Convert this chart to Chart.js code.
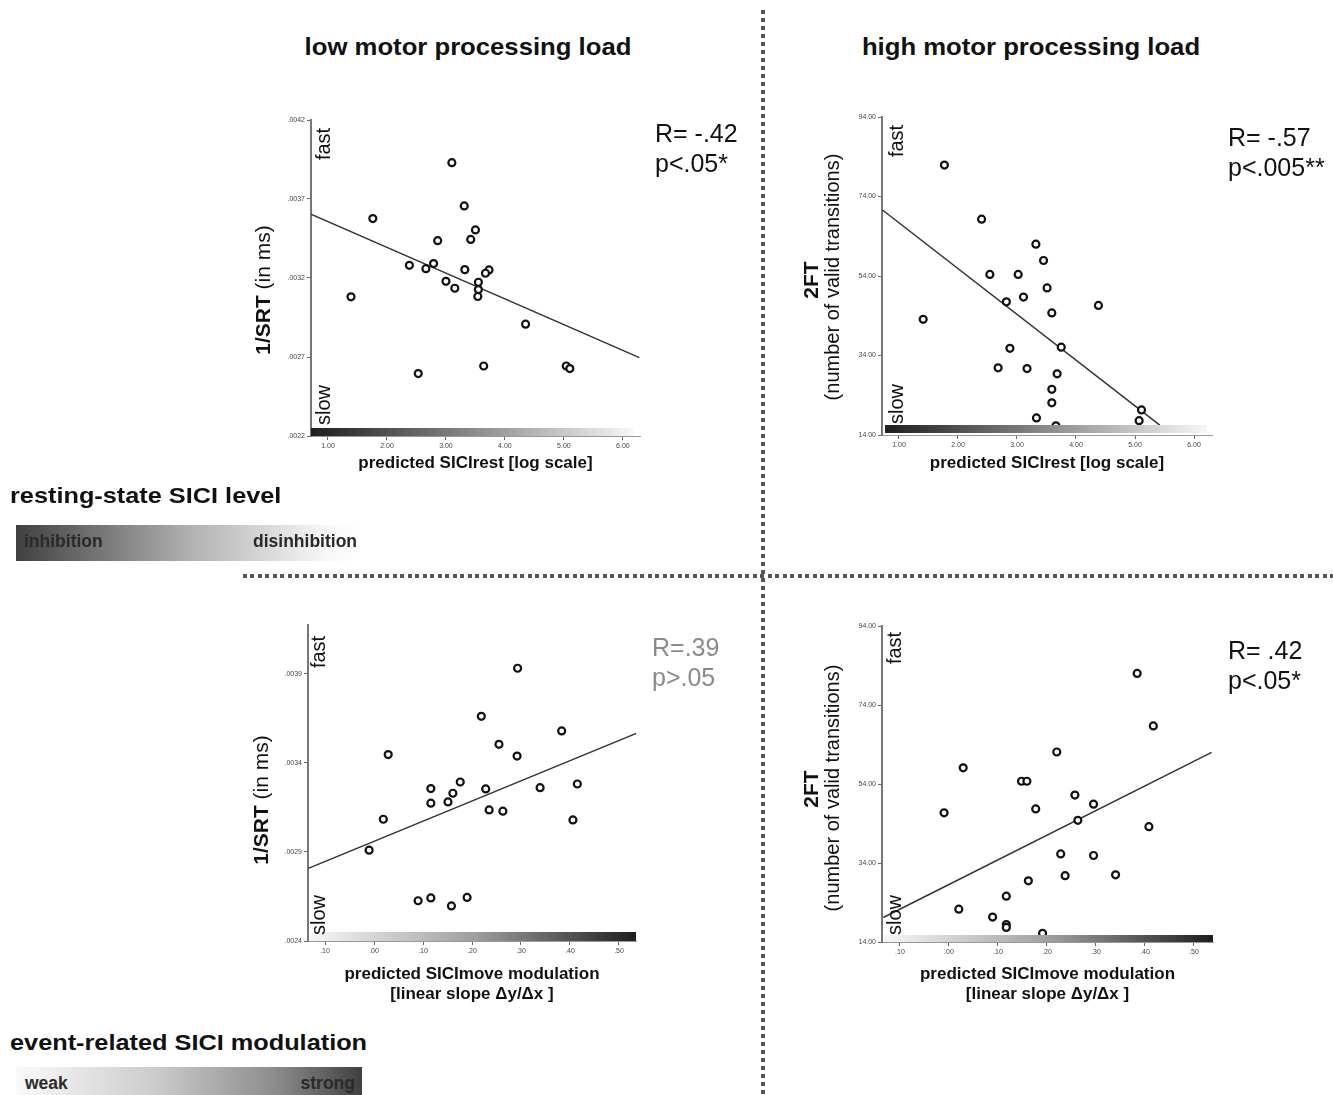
<!DOCTYPE html>
<html>
<head>
<meta charset="utf-8">
<title>SICI and motor performance</title>
<script src="https://cdn.jsdelivr.net/npm/chart.js@4.4.0/dist/chart.umd.min.js"></script>
<style>
  body { margin: 0; width: 1333px; height: 1095px; position: relative; overflow: hidden; background: #fff;
         font-family: "Liberation Sans", Arial, sans-serif; color: #111; }
  canvas { position: absolute; }
  .abs { position: absolute; white-space: nowrap; }
  .title { font-weight: bold; font-size: 24px; top: 33px; transform: translateX(-50%) scaleX(1.07); }
  .stat { font-size: 25px; line-height: 30px; }
  .legend { left: 10px; font-weight: bold; font-size: 22px; line-height: 26px; transform: scaleX(1.15); transform-origin: left center; }
  .bar { left: 16px; width: 346px; }
  .bar span { position: absolute; top: 6px; font-weight: bold; font-size: 17.5px; line-height: 20px; color: #2a2a2a; }
  .vdots { left: 761px; top: 10px; width: 4px; height: 1085px;
           background: repeating-linear-gradient(to bottom, #555 0 4px, transparent 4px 8px); }
  .hdots { left: 243px; top: 574px; width: 1090px; height: 4px;
           background: repeating-linear-gradient(to right, #555 0 4px, transparent 4px 7.5px); }
</style>
</head>
<body>

<canvas id="tl"></canvas>
<canvas id="tr"></canvas>
<canvas id="bl"></canvas>
<canvas id="br"></canvas>

<div class="abs vdots"></div>
<div class="abs hdots"></div>

<div class="abs title" style="left:468px">low motor processing load</div>
<div class="abs title" style="left:1031px">high motor processing load</div>

<div class="abs stat" style="left:655px; top:118px">R= -.42<br>p&lt;.05*</div>
<div class="abs stat" style="left:1228px; top:122px">R= -.57<br>p&lt;.005**</div>
<div class="abs stat" style="left:652px; top:632px; color:#8a8a8a">R=.39<br>p&gt;.05</div>
<div class="abs stat" style="left:1228px; top:635px">R= .42<br>p&lt;.05*</div>

<div class="abs legend" style="top:483px">resting-state SICI level</div>
<div class="abs bar" style="top:525px; height:36px; background:linear-gradient(to right, #404040 0%, #b0b0b0 50%, #f8f8f8 90%, #fff 100%)">
  <span style="left:8px">inhibition</span>
  <span style="left:237px">disinhibition</span>
</div>

<div class="abs legend" style="top:1030px">event-related SICI modulation</div>
<div class="abs bar" style="top:1067px; height:28px; background:linear-gradient(to right, #fafafa 0%, #cccccc 40%, #8c8c8c 75%, #404040 100%)">
  <span style="left:9px">weak</span>
  <span style="right:7px">strong</span>
</div>

<script>
// Tick values and labels (SPSS style, no leading zero)
const restTicks = [1, 2, 3, 4, 5, 6];
const restTickLabels = ["1.00", "2.00", "3.00", "4.00", "5.00", "6.00"];
const moveTicks = [-0.1, 0, 0.1, 0.2, 0.3, 0.4, 0.5];
const moveTickLabels = [".10", ".00", ".10", ".20", ".30", ".40", ".50"];
const srtTopTicks = [0.0022, 0.0027, 0.0032, 0.0037, 0.0042];
const srtTopTickLabels = [".0022", ".0027", ".0032", ".0037", ".0042"];
const srtBottomTicks = [0.0024, 0.0029, 0.0034, 0.0039];
const srtBottomTickLabels = [".0024", ".0029", ".0034", ".0039"];
const ftTicks = [14, 34, 54, 74, 94];
const ftTickLabels = ["14.00", "34.00", "54.00", "74.00", "94.00"];

// Low load, resting-state SICI vs 1/SRT
const restSrtX = [3.10, 3.31, 1.76, 3.50, 3.42, 2.86, 2.38, 2.66, 2.79, 3.32, 3.73, 3.67, 3.00, 3.15, 3.55, 3.55, 3.54, 1.39, 4.35, 3.64, 5.04, 5.10, 2.53];
const restSrtY = [0.00393, 0.003656, 0.003576, 0.003504, 0.003444, 0.003436, 0.00328, 0.003259, 0.003291, 0.003253, 0.003251, 0.00323, 0.003179, 0.003135, 0.003173, 0.003127, 0.003083, 0.003081, 0.002908, 0.002643, 0.002643, 0.002627, 0.002595];
const restSrtFitX = [0.71, 6.28];
const restSrtFitY = [0.003604, 0.002696];

// High load, resting-state SICI vs 2FT
const restFtX = [1.77, 2.40, 3.32, 3.45, 2.54, 3.02, 3.51, 2.82, 3.11, 4.38, 3.59, 1.41, 3.75, 2.88, 2.68, 3.17, 3.68, 3.59, 3.59, 3.33, 5.11, 5.07, 3.66];
const restFtY = [81.9, 68.3, 62.0, 57.9, 54.4, 54.4, 51.0, 47.5, 48.7, 46.6, 44.7, 43.1, 36.1, 35.8, 30.9, 30.7, 29.4, 25.5, 22.1, 18.3, 20.3, 17.6, 16.3];
const restFtFitX = [0.72, 5.42];
const restFtFitY = [70.6, 16.5];

// Low load, SICI modulation vs 1/SRT
const moveSrtX = [0.293, 0.219, 0.383, 0.255, 0.029, 0.292, 0.176, 0.415, 0.116, 0.228, 0.339, 0.161, 0.151, 0.116, 0.235, 0.263, 0.019, 0.406, -0.010, 0.090, 0.116, 0.158, 0.190];
const moveSrtY = [0.003932, 0.003662, 0.00358, 0.003505, 0.003447, 0.003439, 0.003293, 0.003282, 0.003256, 0.003254, 0.003261, 0.00323, 0.003181, 0.003174, 0.003136, 0.003129, 0.003084, 0.00308, 0.00291, 0.002626, 0.002642, 0.002597, 0.002645];
const moveSrtFitX = [-0.134, 0.536];
const moveSrtFitY = [0.002808, 0.003567];

// High load, SICI modulation vs 2FT
const moveFtX = [0.384, 0.417, 0.220, 0.029, 0.148, 0.159, 0.257, 0.295, 0.177, -0.010, 0.263, 0.408, 0.228, 0.295, 0.237, 0.340, 0.162, 0.117, 0.020, 0.089, 0.117, 0.117, 0.191];
const moveFtY = [82.0, 68.7, 62.1, 58.1, 54.7, 54.7, 51.2, 48.9, 47.7, 46.7, 44.8, 43.2, 36.3, 35.9, 30.8, 31.0, 29.5, 25.6, 22.3, 20.3, 18.4, 17.7, 16.2];
const moveFtFitX = [-0.134, 0.536];
const moveFtFitY = [20.2, 62.0];

const FONT = '"Liberation Sans", Arial, sans-serif';
const darkToLight = ["#1e1e1e", "#8a8a8a", "#f7f7f7"];
const lightToDark = ["#f7f7f7", "#a0a0a0", "#1e1e1e"];

// Panel layout: box = canvas [left, top, width, height], area = chart area [left, top, right, bottom] in page px
const panels = [
  {
    id: "tl", box: [240, 100, 420, 390], area: [311, 120, 640, 436],
    xs: restSrtX, ys: restSrtY, fitX: restSrtFitX, fitY: restSrtFitY,
    xMin: 0.712, xMax: 6.29, xTicks: restTicks, xLabels: restTickLabels,
    yMin: 0.0022, yMax: 0.0042, yTicks: srtTopTicks, yLabels: srtTopTickLabels,
    xTitle: "predicted SICIrest [log scale]", xTitlePad: 17,
    barColors: darkToLight, bar: [0, 7, 8, 0],
    speed: [{ text: "fast", x: 324, y: 144 }, { text: "slow", x: 324, y: 405 }],
    yTitle: [{ x: 264, y: 290, runs: [{ text: "1/SRT", font: "bold 21px " + FONT }, { text: " (in ms)", font: "21px " + FONT }] }],
  },
  {
    id: "tr", box: [790, 100, 440, 390], area: [882, 117, 1212, 435],
    xs: restFtX, ys: restFtY, fitX: restFtFitX, fitY: restFtFitY,
    xMin: 0.712, xMax: 6.305, xTicks: restTicks, xLabels: restTickLabels,
    yMin: 14, yMax: 94, yTicks: ftTicks, yLabels: ftTickLabels,
    xTitle: "predicted SICIrest [log scale]", xTitlePad: 17,
    barColors: darkToLight, bar: [3, 5, 10, 2],
    speed: [{ text: "fast", x: 897, y: 141 }, { text: "slow", x: 897, y: 404 }],
    yTitle: [
      { x: 812, y: 280, runs: [{ text: "2FT", font: "bold 21px " + FONT }] },
      { x: 833, y: 277, runs: [{ text: "(number of valid transitions)", font: "20px " + FONT }] },
    ],
  },
  {
    id: "bl", box: [240, 605, 420, 405], area: [308, 625, 636, 941],
    xs: moveSrtX, ys: moveSrtY, fitX: moveSrtFitX, fitY: moveSrtFitY,
    xMin: -0.1347, xMax: 0.5347, xTicks: moveTicks, xLabels: moveTickLabels,
    yMin: 0.0024, yMax: 0.004175, yTicks: srtBottomTicks, yLabels: srtBottomTickLabels,
    xTitle: ["predicted SICImove modulation", "[linear slope \u0394y/\u0394x ]"], xTitlePad: 6,
    barColors: lightToDark, bar: [2, 0, 9, 0],
    speed: [{ text: "fast", x: 319, y: 652 }, { text: "slow", x: 319, y: 915 }],
    yTitle: [{ x: 262, y: 800, runs: [{ text: "1/SRT", font: "bold 21px " + FONT }, { text: " (in ms)", font: "21px " + FONT }] }],
  },
  {
    id: "br", box: [790, 605, 440, 405], area: [882, 626, 1213, 942],
    xs: moveFtX, ys: moveFtY, fitX: moveFtFitX, fitY: moveFtFitY,
    xMin: -0.1367, xMax: 0.5388, xTicks: moveTicks, xLabels: moveTickLabels,
    yMin: 14, yMax: 94, yTicks: ftTicks, yLabels: ftTickLabels,
    xTitle: ["predicted SICImove modulation", "[linear slope \u0394y/\u0394x ]"], xTitlePad: 6,
    barColors: lightToDark, bar: [1, 0, 7, 0],
    speed: [{ text: "fast", x: 895, y: 648 }, { text: "slow", x: 895, y: 915 }],
    yTitle: [
      { x: 812, y: 789, runs: [{ text: "2FT", font: "bold 21px " + FONT }] },
      { x: 833, y: 788, runs: [{ text: "(number of valid transitions)", font: "20px " + FONT }] },
    ],
  },
];

// Plugin: gradient bar along the x axis, fast/slow hints and mixed-weight y titles
function panelPlugin(p) {
  const [cx, cy] = p.box;
  return {
    id: "panelDecor",
    afterDatasetsDraw(chart) {
      const { ctx, chartArea: a } = chart;
      const [d0, d1, top, bottom] = p.bar;
      const x0 = a.left + d0, x1 = a.right - d1;
      const g = ctx.createLinearGradient(x0, 0, x1, 0);
      p.barColors.forEach((c, i) => g.addColorStop(i / (p.barColors.length - 1), c));
      ctx.save();
      ctx.fillStyle = g;
      ctx.fillRect(x0, a.bottom - top, x1 - x0, top - bottom);
      ctx.restore();
    },
    afterDraw(chart) {
      const ctx = chart.ctx;
      ctx.save();
      ctx.fillStyle = "#111";
      ctx.textBaseline = "middle";
      ctx.textAlign = "center";
      ctx.font = "20px " + FONT;
      p.speed.forEach(s => {
        ctx.save();
        ctx.translate(s.x - cx, s.y - cy);
        ctx.rotate(-Math.PI / 2);
        ctx.fillText(s.text, 0, 0);
        ctx.restore();
      });
      ctx.textAlign = "left";
      p.yTitle.forEach(line => {
        let total = 0;
        line.runs.forEach(r => { ctx.font = r.font; total += ctx.measureText(r.text).width; });
        ctx.save();
        ctx.translate(line.x - cx, line.y - cy);
        ctx.rotate(-Math.PI / 2);
        let pos = -total / 2;
        line.runs.forEach(r => {
          ctx.font = r.font;
          ctx.fillText(r.text, pos, 0);
          pos += ctx.measureText(r.text).width;
        });
        ctx.restore();
      });
      ctx.restore();
    },
  };
}

function drawPanel(p) {
  const cv = document.getElementById(p.id);
  const [cx, cy, cw, ch] = p.box;
  const [L, T, R, B] = p.area;
  cv.width = cw;
  cv.height = ch;
  cv.style.left = cx + "px";
  cv.style.top = cy + "px";

  const axisGrid = { drawOnChartArea: false, drawTicks: true, tickLength: 4, color: "#666", lineWidth: 1 };

  new Chart(cv, {
    type: "scatter",
    data: {
      datasets: [
        {
          data: p.xs.map((x, i) => ({ x: x, y: p.ys[i] })),
          pointRadius: 3.5,
          pointBorderWidth: 2.2,
          borderColor: "#111",
          backgroundColor: "#fff",
          order: 0,
        },
        {
          data: p.fitX.map((x, i) => ({ x: x, y: p.fitY[i] })),
          showLine: true,
          pointRadius: 0,
          borderColor: "#333",
          borderWidth: 1.5,
          order: 1,
        },
      ],
    },
    options: {
      responsive: false,
      maintainAspectRatio: false,
      animation: false,
      events: [],
      layout: { padding: { left: 0, top: T - cy, right: cx + cw - R, bottom: 0 } },
      plugins: { legend: { display: false }, tooltip: { enabled: false } },
      scales: {
        x: {
          type: "linear",
          min: p.xMin,
          max: p.xMax,
          afterFit: s => { s.height = cy + ch - B; },
          afterBuildTicks: s => { s.ticks = p.xTicks.map(v => ({ value: v })); },
          grid: axisGrid,
          border: { display: true, color: "#999", width: 1 },
          ticks: {
            autoSkip: false,
            maxRotation: 0,
            padding: 2,
            color: "#444",
            font: { family: FONT, size: 7 },
            callback: (v, i) => p.xLabels[i],
          },
          title: {
            display: true,
            text: p.xTitle,
            color: "#111",
            font: { family: FONT, size: 17, weight: "bold", lineHeight: 1.18 },
            padding: { top: 0, bottom: p.xTitlePad },
          },
        },
        y: {
          type: "linear",
          min: p.yMin,
          max: p.yMax,
          afterFit: s => { s.width = L - cx; },
          afterBuildTicks: s => { s.ticks = p.yTicks.map(v => ({ value: v })); },
          grid: axisGrid,
          border: { display: true, color: "#777", width: 2 },
          ticks: {
            autoSkip: false,
            padding: 2,
            color: "#444",
            font: { family: FONT, size: 7 },
            callback: (v, i) => p.yLabels[i],
          },
        },
      },
    },
    plugins: [panelPlugin(p)],
  });
}

panels.forEach(drawPanel);
</script>
</body>
</html>
